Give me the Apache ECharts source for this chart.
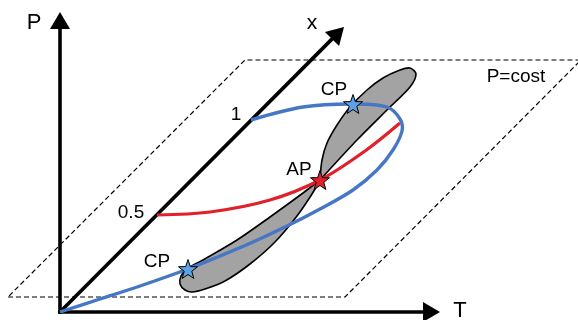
<!DOCTYPE html>
<html><head><meta charset="utf-8">
<script src="https://cdn.jsdelivr.net/npm/echarts@6/dist/echarts.min.js"></script>
<style>html,body{margin:0;padding:0;background:#fff}#c{width:578px;height:320px}</style>
</head><body><div id="c"></div>
<script>
// Diagram coordinates (x to the right, y downward)
const axisArrows = [[60,314,60,12],[58,312,440,312],[60,312,344,27]];
const planeOutline = [[8,297],[345,297],[581,60],[245,60],[8,297]];
const blueCurve = [[251,120],[303,107],[352,104],[387,107],[400,119],[402,131],[393,150],[377,170],[353,190],[320,209],[287,226],[253,242],[220,256],[188,269],[140,286],[100,299],[60,312]];
const redCurve = [[157,215],[210,212],[270,200],[320,180],[365,151],[400,123]];
const upperLobe = [[320,180],[322,160],[327,143],[337,125],[350,107],[367,90],[383,78],[400,70],[410,68],[416,74],[410,87],[390,107],[357,140],[320,180]];
const lowerLobe = [[320,180],[303,193],[270,217],[237,240],[203,260],[187,269],[181,276],[180,284],[185,290],[192,292],[205,289],[225,281],[250,264],[275,242],[297,216],[312,194],[320,180]];
const cpStars = [[353,104],[188,269]];
const apStars = [[320,180]];
const labelTexts = ['P','T','x','1','0.5','CP','CP','AP','P=cost'];
const labelPos = [[34,23],[460,311],[312,23],[236,115],[131,213],[334,90],[157,262],[299,170],[516,77]];
const labelSizes = [22,22,21,19,19,19,19,19,19];

const STAR = 'path://M0,-10 L2.35,-3.24 9.51,-3.09 3.80,1.24 5.88,8.09 0,4.3 -5.88,8.09 -3.80,1.24 -9.51,-3.09 -2.35,-3.24 Z';
const chart = echarts.init(document.getElementById('c'), null, {renderer:'canvas'});

function shapeSeries(pts, z, smooth, style){
  return {
    type:'custom', coordinateSystem:'cartesian2d', z:z, silent:true, clip:false,
    data:[[pts[0][0],pts[0][1]]],
    renderItem:function(params, api){
      const p = pts.map(q => api.coord(q));
      return {type:'polyline', shape:{points:p, smooth:smooth}, style:style};
    }
  };
}

chart.setOption({
  animation:false,
  backgroundColor:'#fff',
  grid:{left:0,right:0,top:0,bottom:0},
  xAxis:{type:'value',min:0,max:578,show:false},
  yAxis:{type:'value',min:0,max:320,inverse:true,show:false},
  series:[
    {type:'line', data:planeOutline, z:1, symbol:'none', silent:true, clip:false,
     lineStyle:{color:'#000', width:1.2, type:[5,3]}},
    {type:'custom', coordinateSystem:'cartesian2d', z:2, silent:true, clip:false,
     data:axisArrows,
     renderItem:function(params, api){
       const a = api.coord([api.value(0), api.value(1)]);
       const b = api.coord([api.value(2), api.value(3)]);
       const dx=b[0]-a[0], dy=b[1]-a[1], L=Math.hypot(dx,dy), ux=dx/L, uy=dy/L;
       const len=17, hw=10;
       const bx=b[0]-ux*len, by=b[1]-uy*len;
       return {type:'group', children:[
         {type:'line', shape:{x1:a[0],y1:a[1],x2:bx+ux*2,y2:by+uy*2}, style:{stroke:'#000', lineWidth:3.6}},
         {type:'polygon', shape:{points:[[b[0],b[1]],[bx-uy*hw,by+ux*hw],[bx+uy*hw,by-ux*hw]]}, style:{fill:'#000'}}
       ]};
     }},
    shapeSeries(upperLobe, 3, 0.3, {fill:'#a3a3a3', stroke:'#000', lineWidth:1.6, lineJoin:'round'}),
    shapeSeries(lowerLobe, 3, 0.3, {fill:'#a3a3a3', stroke:'#000', lineWidth:1.6, lineJoin:'round'}),
    shapeSeries(redCurve, 4, 0.35, {fill:null, stroke:'#e0202a', lineWidth:3.2, lineCap:'butt'}),
    shapeSeries(blueCurve, 4, 0.35, {fill:null, stroke:'#4677c5', lineWidth:3.4, lineCap:'butt'}),
    {type:'scatter', data:cpStars, z:5, symbol:STAR, symbolSize:19, silent:true,
     itemStyle:{color:'#5ea2e6', borderColor:'#000', borderWidth:1, opacity:1}},
    {type:'scatter', data:apStars, z:5, symbol:STAR, symbolSize:19, silent:true,
     itemStyle:{color:'#e0202a', borderColor:'#000', borderWidth:1, opacity:1}},
    {type:'custom', coordinateSystem:'cartesian2d', z:6, silent:true, clip:false,
     data:labelPos.map((p,i)=>[p[0],p[1],i]),
     renderItem:function(params, api){
       const c = api.coord([api.value(0), api.value(1)]);
       const i = api.value(2);
       return {type:'text', x:c[0], y:c[1], style:{text:labelTexts[i], fill:'#000',
         font: labelSizes[i]+'px "Liberation Sans", Arial, sans-serif',
         align:'center', verticalAlign:'middle', textAlign:'center', textVerticalAlign:'middle'}};
     }}
  ]
});
</script></body></html>
